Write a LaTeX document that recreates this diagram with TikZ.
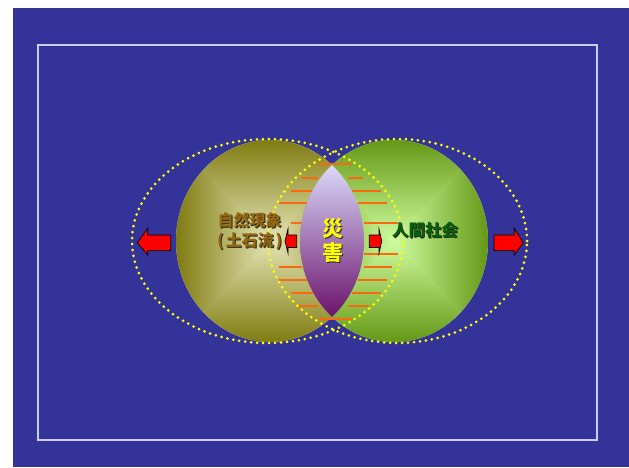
\documentclass[tikz,border=0pt]{standalone}
\usepackage{fontspec}
\newfontfamily\jp{Noto Sans CJK JP}
\definecolor{bg}{RGB}{51,51,153}
\definecolor{framec}{RGB}{205,205,240}
\definecolor{olivedark}{RGB}{128,124,18}
\definecolor{olivelight}{RGB}{228,228,180}
\definecolor{greendark}{RGB}{100,152,22}
\definecolor{greenlight}{RGB}{208,252,158}
\definecolor{lenstop}{RGB}{220,220,252}
\definecolor{lensmid}{RGB}{172,160,215}
\definecolor{lensbot}{RGB}{105,15,105}
\definecolor{orangel}{RGB}{250,105,15}
\definecolor{dotc}{RGB}{255,255,0}
\definecolor{nattext}{RGB}{150,105,15}
\definecolor{humtext}{RGB}{10,95,10}
\definecolor{distext}{RGB}{255,255,0}
\tikzset{
  dotsty/.style={draw=dotc, line width=3pt, line cap=round, dash pattern=on 0pt off 6pt},
  oline/.style={draw=orangel, line width=1.8pt},
  arrowbox/.style={fill=red, draw=black, line width=0.7pt, line join=miter},
}
\newcommand\gemfill[6]{%
  \begin{scope}
    \clip (#1,#2) ellipse [x radius=#3, y radius=#4];
    \fill[#6] ({#1-#3},{#2-#4}) rectangle ({#1+#3},{#2+#4});
    \shade[top color=#5, bottom color=#6] ({#1-#3},{#2+#4}) -- ({#1+#3},{#2+#4}) -- (#1,#2) -- cycle;
    \shade[top color=#6, bottom color=#5] ({#1-#3},{#2-#4}) -- ({#1+#3},{#2-#4}) -- (#1,#2) -- cycle;
    \shade[left color=#5, right color=#6] ({#1-#3},{#2-#4}) -- ({#1-#3},{#2+#4}) -- (#1,#2) -- cycle;
    \shade[left color=#6, right color=#5] ({#1+#3},{#2-#4}) -- ({#1+#3},{#2+#4}) -- (#1,#2) -- cycle;
  \end{scope}}
\newcommand\stxt[6]{%
  \node[font=\jp\bfseries\fontsize{#4}{#4}\selectfont, text=black!85, inner sep=0pt] (#1s) at ({#2+1},{#3-1}) {#6};
  \node[font=\jp\bfseries\fontsize{#4}{#4}\selectfont, text=#5, inner sep=0pt] (#1) at (#2,#3) {#6};}
\begin{document}
\begin{tikzpicture}[x=1pt,y=1pt]
\useasboundingbox (0,0) rectangle (629,467);
\fill[white] (0,0) rectangle (629,467);
\fill[bg] (13,0) rectangle (629,459);
\draw[framec, line width=1.2pt] (38,27) rectangle (597,422);
% circles
\gemfill{270}{226}{94}{101}{olivedark}{olivelight}
\gemfill{394}{226}{94}{101}{greendark}{greenlight}
% orange lines
\draw[oline] (319.3,302.7) -- (352.3,302.7);
\draw[oline] (301.7,289.3) -- (318.3,289.3);
\draw[oline] (347.7,289.3) -- (363.3,289.3);
\draw[oline] (290.7,276.3) -- (312.7,276.3);
\draw[oline] (352.3,276.3) -- (381,276.3);
\draw[oline] (279.3,263.7) -- (306.7,263.7);
\draw[oline] (358.3,263.7) -- (386.7,263.7);
\draw[oline] (290.7,244.3) -- (301.7,244.3);
\draw[oline] (364.3,244.3) -- (397.7,244.3);
\draw[oline] (364.3,212.7) -- (397.7,212.7);
\draw[oline] (279.3,199.7) -- (301.7,199.7);
\draw[oline] (364.3,199.7) -- (391.7,199.7);
\draw[oline] (279.3,187) -- (306.7,187);
\draw[oline] (358.3,187) -- (386.7,187);
\draw[oline] (290.7,174) -- (312.7,174);
\draw[oline] (352.3,174) -- (381,174);
\draw[oline] (296.7,161.3) -- (318.3,161.3);
\draw[oline] (347.7,161.3) -- (369.3,161.3);
\draw[oline] (319.3,148.3) -- (352.3,148.3);
% lens
\begin{scope}
  \clip (270,226) ellipse [x radius=94, y radius=101];
  \clip (394,226) ellipse [x radius=94, y radius=101];
  \shade[top color=lenstop, middle color=lensmid, bottom color=lensbot] (296,148) rectangle (368,304);
\end{scope}
% dotted ellipses
\draw[dotsty] (267.5,226) ellipse [x radius=135.5, y radius=102];
\draw[dotsty] (397.5,226) ellipse [x radius=129.5, y radius=102];
% arrows
\draw[arrowbox] (137.3,224.3) -- (147.7,238.7) -- (147.7,232) -- (170.7,232) -- (170.7,216.3) -- (147.7,216.3) -- (147.7,212) -- cycle;
\draw[arrowbox] (494,232) -- (514.3,232) -- (514.3,238.7) -- (523.3,224.3) -- (514.3,212) -- (514.3,216.3) -- (494,216.3) -- cycle;
\draw[arrowbox] (285,226) -- (288,238) -- (288,232) -- (296.7,232) -- (296.7,219.5) -- (288,219.5) -- (288,214) -- cycle;
\draw[arrowbox] (369.3,232) -- (379,232) -- (379,238) -- (381.7,226) -- (379,214) -- (379,219.5) -- (369.3,219.5) -- cycle;
% texts
\stxt{nat1}{249.5}{246.5}{16}{nattext}{自然現象}
\stxt{nat2}{249.5}{225.5}{16}{nattext}{(\kern2pt土石流\kern2pt)}
\stxt{hum}{425}{237}{16.5}{humtext}{人間社会}
\stxt{dis1}{332.5}{238.6}{21}{distext}{災}
\stxt{dis2}{332.5}{214}{21}{distext}{害}
\end{tikzpicture}
\end{document}
